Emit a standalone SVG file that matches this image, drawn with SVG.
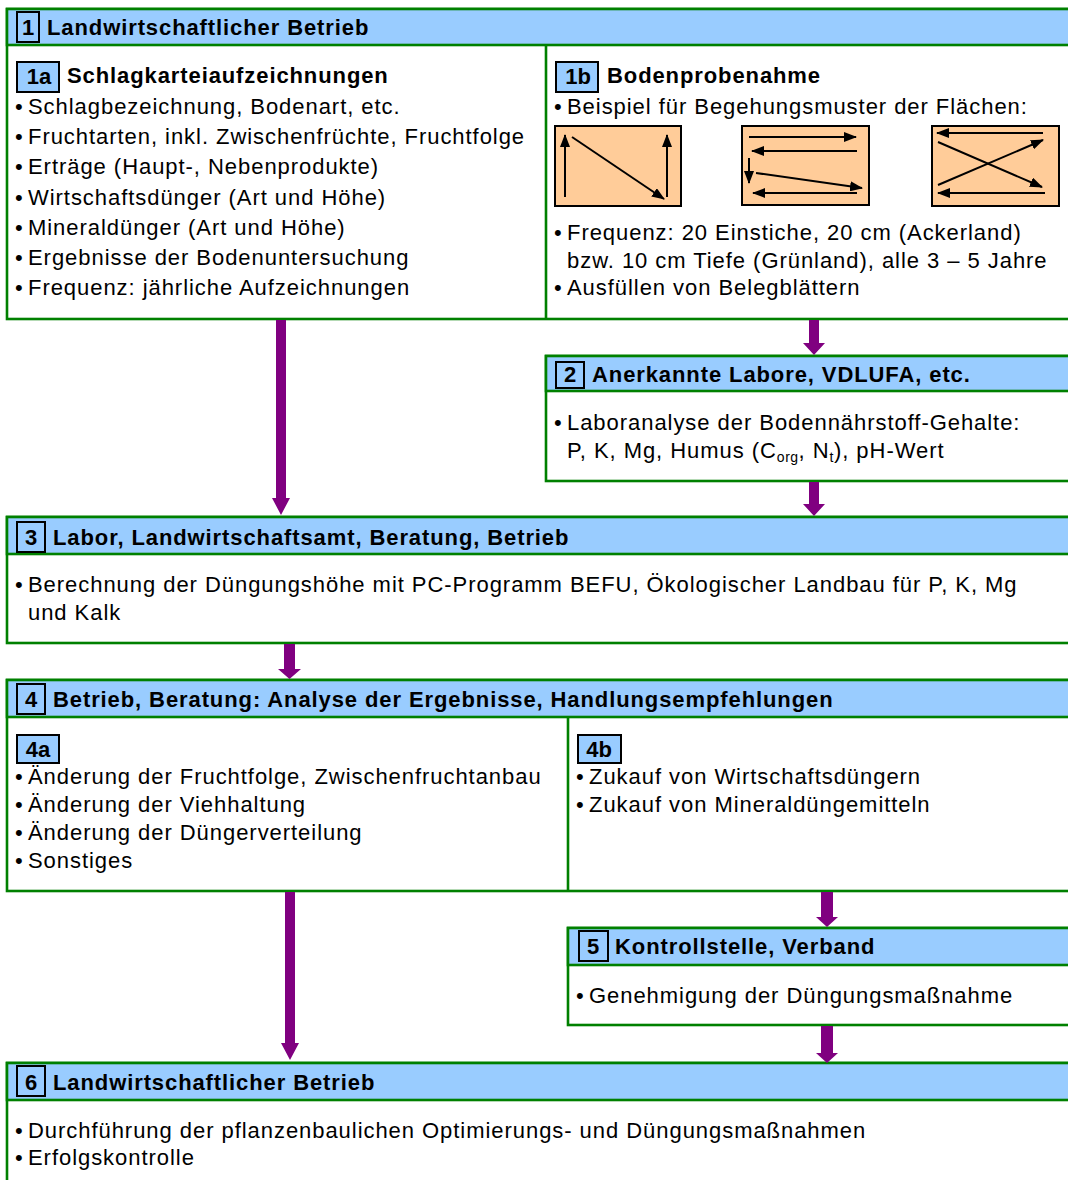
<svg xmlns="http://www.w3.org/2000/svg" width="1068" height="1180" viewBox="0 0 1068 1180">
<defs>
<style>
text{font-family:"Liberation Sans",Arial,sans-serif;font-size:22px;letter-spacing:0.95px;fill:#000}
.b{font-weight:bold;letter-spacing:0.9px}
.c{letter-spacing:0}
.box{fill:#fff;stroke:#008000;stroke-width:2.6}
.hdr{fill:#99CCFF;stroke:#008000;stroke-width:2.6}
.div{stroke:#008000;stroke-width:2.6;fill:none}
.nb{fill:#99CCFF;stroke:#000;stroke-width:2}
.pat{fill:#FFCC99;stroke:#000;stroke-width:2}
.pl{stroke:#000;stroke-width:2;fill:none;marker-end:url(#ah)}
.arr{fill:#800080}
.sub{font-size:14px;letter-spacing:0.5px}
</style>
<marker id="ah" viewBox="0 0 13 10" refX="12" refY="5" markerWidth="13" markerHeight="10" orient="auto" markerUnits="userSpaceOnUse"><path d="M0,0 L13,5 L0,10 z" fill="#000"/></marker>
</defs>
<rect width="1068" height="1180" fill="#fff"/>

<g id="node1">
<rect class="box" x="7" y="9" width="1075" height="310"/>
<rect class="hdr" x="7" y="9" width="1075" height="36"/>
<line class="div" x1="546" y1="45" x2="546" y2="319"/>
<rect class="nb" x="17" y="12" width="22" height="30"/>
<text class="b c" x="28" y="35" text-anchor="middle">1</text>
<text class="b" x="47" y="35">Landwirtschaftlicher Betrieb</text>
</g>

<g id="node1a">
<rect class="nb" x="17" y="62" width="42" height="30"/>
<text class="b c" x="39" y="84" text-anchor="middle">1a</text>
<text class="b" x="67" y="83">Schlagkarteiaufzeichnungen</text>
<text x="15" y="114">•</text><text x="28" y="114">Schlagbezeichnung, Bodenart, etc.</text>
<text x="15" y="144">•</text><text x="28" y="144">Fruchtarten, inkl. Zwischenfrüchte, Fruchtfolge</text>
<text x="15" y="174">•</text><text x="28" y="174">Erträge (Haupt-, Nebenprodukte)</text>
<text x="15" y="205">•</text><text x="28" y="205">Wirtschaftsdünger (Art und Höhe)</text>
<text x="15" y="235">•</text><text x="28" y="235">Mineraldünger (Art und Höhe)</text>
<text x="15" y="265">•</text><text x="28" y="265">Ergebnisse der Bodenuntersuchung</text>
<text x="15" y="295">•</text><text x="28" y="295">Frequenz: jährliche Aufzeichnungen</text>
</g>

<g id="node1b">
<rect class="nb" x="556" y="62" width="42" height="30"/>
<text class="b c" x="578" y="84" text-anchor="middle">1b</text>
<text class="b" x="607" y="83">Bodenprobenahme</text>
<text x="554" y="114">•</text><text x="567" y="114">Beispiel für Begehungsmuster der Flächen:</text>
<rect class="pat" x="555" y="126" width="126" height="80"/>
<line class="pl" x1="565" y1="197" x2="565" y2="135"/>
<line class="pl" x1="572" y1="137" x2="664" y2="199"/>
<line class="pl" x1="667" y1="197" x2="667" y2="135"/>
<rect class="pat" x="742" y="126" width="127" height="79"/>
<line class="pl" x1="749" y1="137" x2="856" y2="137"/>
<line class="pl" x1="857" y1="151" x2="752" y2="151"/>
<line class="pl" x1="749" y1="158" x2="749" y2="183"/>
<line class="pl" x1="756" y1="173" x2="862" y2="188"/>
<line class="pl" x1="857" y1="193" x2="753" y2="193"/>
<rect class="pat" x="932" y="126" width="127" height="80"/>
<line class="pl" x1="1043" y1="133" x2="937" y2="133"/>
<line class="pl" x1="938" y1="185" x2="1043" y2="140"/>
<line class="pl" x1="938" y1="142" x2="1042" y2="187"/>
<line class="pl" x1="1045" y1="193" x2="938" y2="193"/>
<text x="554" y="240">•</text><text x="567" y="240">Frequenz: 20 Einstiche, 20 cm (Ackerland)</text>
<text x="567" y="268">bzw. 10 cm Tiefe (Grünland), alle 3 – 5 Jahre</text>
<text x="554" y="295">•</text><text x="567" y="295">Ausfüllen von Belegblättern</text>
</g>

<g id="node2">
<rect class="box" x="546" y="356" width="536" height="125"/>
<rect class="hdr" x="546" y="356" width="536" height="35"/>
<rect class="nb" x="556" y="362" width="28" height="26" style="fill:none"/>
<text class="b c" x="570" y="382" text-anchor="middle">2</text>
<text class="b" x="592" y="382">Anerkannte Labore, VDLUFA, etc.</text>
<text x="554" y="430">•</text><text x="567" y="430">Laboranalyse der Bodennährstoff-Gehalte:</text>
<text x="567" y="458">P, K, Mg, Humus (C<tspan class="sub" dy="4">org</tspan><tspan dy="-4">, N</tspan><tspan class="sub" dy="4">t</tspan><tspan dy="-4">), pH-Wert</tspan></text>
</g>

<g id="node3">
<rect class="box" x="7" y="517" width="1075" height="126"/>
<rect class="hdr" x="7" y="517" width="1075" height="37"/>
<rect class="nb" x="17" y="522" width="28" height="30" style="fill:none"/>
<text class="b c" x="31" y="545" text-anchor="middle">3</text>
<text class="b" x="53" y="545">Labor, Landwirtschaftsamt, Beratung, Betrieb</text>
<text x="15" y="592">•</text><text x="28" y="592">Berechnung der Düngungshöhe mit PC-Programm BEFU, Ökologischer Landbau für P, K, Mg</text>
<text x="28" y="620">und Kalk</text>
</g>

<g id="node4">
<rect class="box" x="7" y="680" width="1075" height="211"/>
<rect class="hdr" x="7" y="680" width="1075" height="37"/>
<line class="div" x1="568" y1="717" x2="568" y2="891"/>
<rect class="nb" x="17" y="684" width="28" height="30" style="fill:none"/>
<text class="b c" x="31" y="707" text-anchor="middle">4</text>
<text class="b" x="53" y="707">Betrieb, Beratung: Analyse der Ergebnisse, Handlungsempfehlungen</text>
</g>

<g id="node4a">
<rect class="nb" x="17" y="735" width="42" height="28"/>
<text class="b c" x="38" y="757" text-anchor="middle">4a</text>
<text x="15" y="784">•</text><text x="28" y="784">Änderung der Fruchtfolge, Zwischenfruchtanbau</text>
<text x="15" y="812">•</text><text x="28" y="812">Änderung der Viehhaltung</text>
<text x="15" y="840">•</text><text x="28" y="840">Änderung der Düngerverteilung</text>
<text x="15" y="868">•</text><text x="28" y="868">Sonstiges</text>
</g>

<g id="node4b">
<rect class="nb" x="578" y="735" width="43" height="28"/>
<text class="b c" x="599" y="757" text-anchor="middle">4b</text>
<text x="576" y="784">•</text><text x="589" y="784">Zukauf von Wirtschaftsdüngern</text>
<text x="576" y="812">•</text><text x="589" y="812">Zukauf von Mineraldüngemitteln</text>
</g>

<g id="node5">
<rect class="box" x="568" y="928" width="514" height="97"/>
<rect class="hdr" x="568" y="928" width="514" height="37"/>
<rect class="nb" x="579" y="931" width="29" height="30" style="fill:none"/>
<text class="b c" x="593" y="954" text-anchor="middle">5</text>
<text class="b" x="615" y="954">Kontrollstelle, Verband</text>
<text x="576" y="1003">•</text><text x="589" y="1003">Genehmigung der Düngungsmaßnahme</text>
</g>

<g id="node6">
<rect class="box" x="7" y="1063" width="1075" height="130"/>
<rect class="hdr" x="7" y="1063" width="1075" height="37"/>
<rect class="nb" x="17" y="1066" width="28" height="30" style="fill:none"/>
<text class="b c" x="31" y="1090" text-anchor="middle">6</text>
<text class="b" x="53" y="1090">Landwirtschaftlicher Betrieb</text>
<text x="15" y="1138">•</text><text x="28" y="1138">Durchführung der pflanzenbaulichen Optimierungs- und Düngungsmaßnahmen</text>
<text x="15" y="1165">•</text><text x="28" y="1165">Erfolgskontrolle</text>
</g>

<g id="connectors">
<path class="arr" d="M276,320 H286 V498 H290 L281,515 L272,498 H276 Z"/>
<path class="arr" d="M809,320 H819 V343 H825 L814,355 L803,343 H809 Z"/>
<path class="arr" d="M809,482 H819 V504 H825 L814,516 L803,504 H809 Z"/>
<path class="arr" d="M284,644 H295 V669 H301 L289.5,679 L278,669 H284 Z"/>
<path class="arr" d="M285,892 H295 V1043 H299 L290,1060 L281,1043 H285 Z"/>
<path class="arr" d="M821,892 H833 V917 H838 L827,927 L816,917 H821 Z"/>
<path class="arr" d="M821,1026 H833 V1053 H838 L827,1063 L816,1053 H821 Z"/>
</g>
</svg>
